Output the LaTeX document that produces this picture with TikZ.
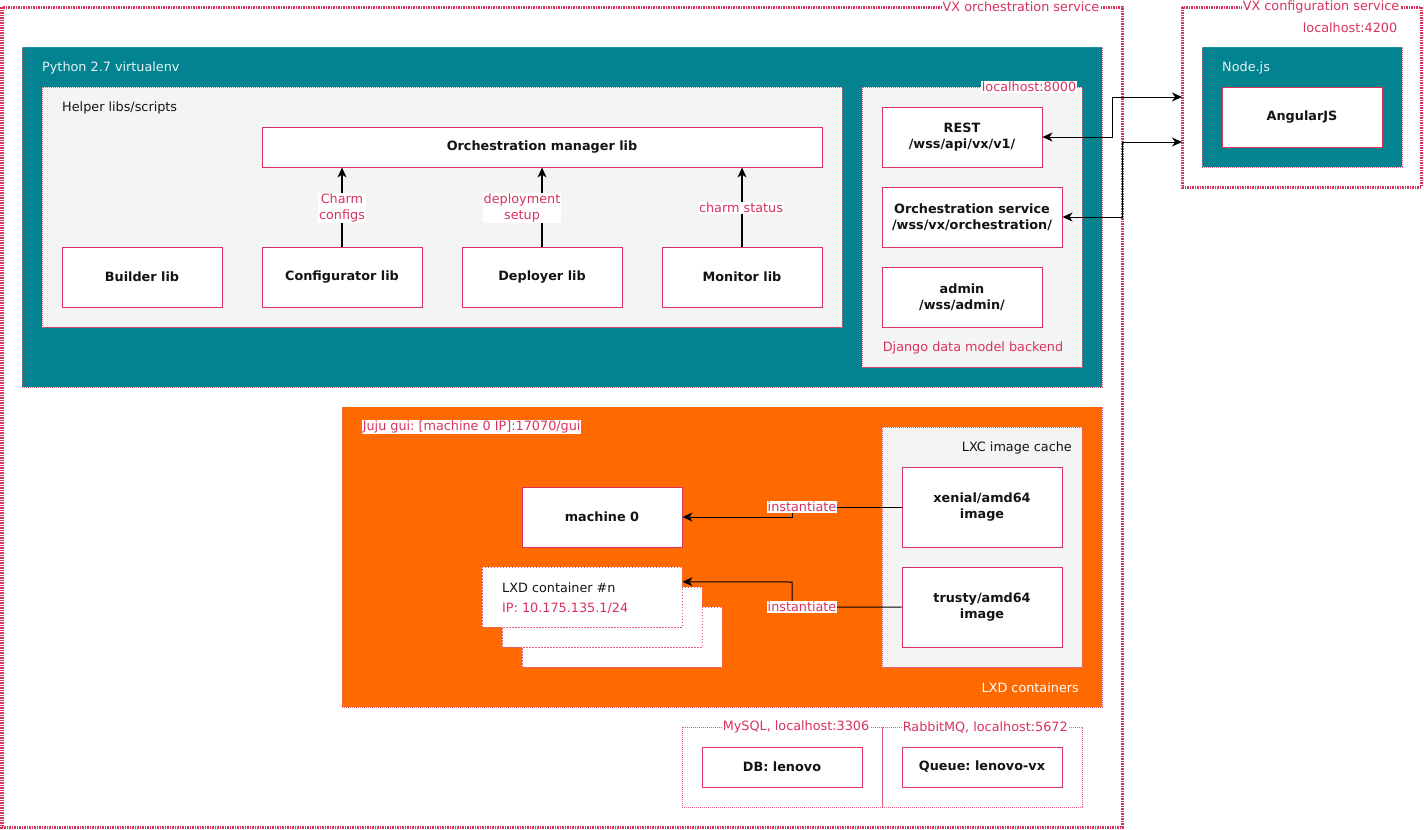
\documentclass[tikz,border=0pt]{standalone}
\usepackage{fontspec}
\setmainfont{DejaVu Sans}
\usetikzlibrary{arrows.meta,calc}
\definecolor{vxred}{HTML}{D8335C}
\definecolor{vxpink}{HTML}{E2607F}
\definecolor{vxteal}{HTML}{03838F}
\definecolor{vxorange}{HTML}{FF6A00}
\definecolor{vxgray}{HTML}{F4F4F4}
\definecolor{vxtext}{HTML}{141414}
\definecolor{vxlight}{HTML}{E6F2F3}
\frenchspacing
\begin{document}
\begin{tikzpicture}[x=1bp,y=-1bp,
  every node/.style={font=\fontsize{12.8bp}{16bp}\selectfont},
  outerframe/.style={draw=vxred, line width=3bp, dash pattern=on 1.5bp off 1bp},
  region/.style={draw=vxpink, line width=1bp, dash pattern=on 1bp off 1bp},
  whitebox/.style={draw=vxred, fill=white, line width=1bp, inner sep=0pt, align=center,
    text=vxtext, font=\fontsize{12.8bp}{16bp}\selectfont\bfseries},
  stackbox/.style={draw=vxpink, fill=white, line width=1bp, dash pattern=on 1.5bp off 1.5bp},
  redlabel/.style={text=vxred, inner sep=0.6bp},
  wlabel/.style={text=vxred, fill=white, inner sep=0.6bp},
  uparr/.style={line width=1.6bp, -{Stealth[length=10bp,width=9bp,inset=3bp]}},
  conn/.style={line width=1bp, -{Stealth[length=10bp,width=9bp,inset=3bp]}},
  biconn/.style={line width=1bp, {Stealth[length=10bp,width=9bp,inset=3bp]}-{Stealth[length=10bp,width=9bp,inset=3bp]}},
  plain/.style={line width=1bp}
]
\useasboundingbox (0,0) rectangle (1424,829);
\fill[white] (0,0) rectangle (1424,829);

% outer frames
\draw[outerframe] (2,7) rectangle (1122,827);
\node[wlabel] (orchlbl) at (1021,7) {VX orchestration service};
\draw[outerframe] (1182,7) rectangle (1421,187);
\node[wlabel] (cfglbl) at (1321,7) {VX configuration service};
\node[redlabel, anchor=east] (cfgport) at (1398,28) {localhost:4200};

% Python virtualenv
\draw[region, fill=vxteal] (22,47) rectangle (1102,387);
\node[anchor=west, inner sep=0pt, text=vxlight] (pylbl) at (42,68) {Python 2.7 virtualenv};

% helper libs
\draw[region, fill=vxgray] (42,87) rectangle (842,327);
\node[anchor=west, inner sep=0pt, text=vxtext] (helperlbl) at (62,108) {Helper libs/scripts};

\node[whitebox, minimum width=560bp, minimum height=40bp] (orchlib) at (542,147) {Orchestration manager lib};
\node[whitebox, minimum width=160bp, minimum height=60bp] (builder) at (142,277) {Builder lib};
\node[whitebox, minimum width=160bp, minimum height=60bp] (configurator) at (342,277) {Configurator lib};
\node[whitebox, minimum width=160bp, minimum height=60bp] (deployer) at (542,277) {Deployer lib};
\node[whitebox, minimum width=160bp, minimum height=60bp] (monitor) at (742,277) {Monitor lib};

\draw[uparr] (configurator.north) -- (configurator.north |- orchlib.south);
\draw[uparr] (deployer.north) -- (deployer.north |- orchlib.south);
\draw[uparr] (monitor.north) -- (monitor.north |- orchlib.south);
\node[wlabel, align=center] (lblcharm) at (342,208) {Charm\\configs};
\node[wlabel, align=center] (lbldeploy) at (522,208) {deployment\\setup};
\node[wlabel] (lblstatus) at (741,208) {charm status};

% Django backend
\draw[region, fill=vxgray] (862,87) rectangle (1082,367);
\node[wlabel, anchor=east] (djport) at (1077,87) {localhost:8000};
\node[redlabel] (djlbl) at (973,348) {Django data model backend};
\node[whitebox, minimum width=160bp, minimum height=60bp] (rest) at (962,137) {REST\\/wss/api/vx/v1/};
\node[whitebox, minimum width=180bp, minimum height=60bp] (orchsvc) at (972,217) {Orchestration service\\/wss/vx/orchestration/};
\node[whitebox, minimum width=160bp, minimum height=60bp] (admin) at (962,297) {admin\\/wss/admin/};

% Node.js
\draw[region, fill=vxteal] (1202,47) rectangle (1402,167);
\node[anchor=west, inner sep=0pt, text=vxlight] (nodelbl) at (1222,68) {Node.js};
\node[whitebox, minimum width=160bp, minimum height=60bp] (angular) at (1302,117) {AngularJS};

\coordinate (cfgA) at (1182,97);
\coordinate (cfgB) at (1182,142);
\draw[biconn] (rest.east) -- (1112,137) -- (1112,97) -- (cfgA);
\draw[biconn] (orchsvc.east) -- (1122,217) -- (1122,142) -- (cfgB);

% LXD containers
\draw[region, fill=vxorange] (342,407) rectangle (1102,707);
\node[wlabel, anchor=west] (jujulbl) at (362,427) {Juju gui: [machine 0 IP]:17070/gui};
\node[anchor=east, inner sep=0pt, text=white] (lxdlbl) at (1079,688) {LXD containers};

\draw[region, fill=vxgray] (882,427) rectangle (1082,667);
\node[anchor=east, inner sep=0pt, text=vxtext] (cachelbl) at (1072,448) {LXC image cache};
\node[whitebox, minimum width=160bp, minimum height=80bp] (xenial) at (982,507) {xenial/amd64\\image};
\node[whitebox, minimum width=160bp, minimum height=80bp] (trusty) at (982,607) {trusty/amd64\\image};

\node[whitebox, minimum width=160bp, minimum height=60bp] (machine) at (602,517) {machine 0};

\node[stackbox, minimum width=200bp, minimum height=60bp, inner sep=0pt] (lxdback) at (622,637) {};
\node[stackbox, minimum width=200bp, minimum height=60bp, inner sep=0pt] (lxdmid) at (602,617) {};
\node[stackbox, minimum width=200bp, minimum height=60bp, inner sep=0pt] (lxdfront) at (582,597) {};
\node[anchor=west, inner sep=0pt, text=vxtext] (lxdname) at (502,588) {LXD container \#n};
\node[anchor=west, inner sep=0pt, text=vxred] (lxdip) at (502,608) {IP: 10.175.135.1/24};

\coordinate (lxdin) at ($(lxdfront.north east)!0.25!(lxdfront.south east)$);
\draw[conn] (xenial.west) -- (792,507) -- (792,517) -- (machine.east);
\draw[conn] (trusty.west) -- (792,607) -- (792,582) -- (lxdin);
\node[wlabel] (inst1) at (802,507) {instantiate};
\node[wlabel] (inst2) at (802,607) {instantiate};

% DB / queue
\draw[region] (682,727) rectangle (882,807);
\draw[region] (882,727) rectangle (1082,807);
\node[wlabel, anchor=west] (mysqllbl) at (722,727) {MySQL, localhost:3306};
\node[wlabel, anchor=west] (rabbitlbl) at (902,727) {RabbitMQ, localhost:5672};
\node[whitebox, minimum width=160bp, minimum height=40bp] (db) at (782,767) {DB: lenovo};
\node[whitebox, minimum width=160bp, minimum height=40bp] (queue) at (982,767) {Queue: lenovo-vx};
\end{tikzpicture}
\end{document}
